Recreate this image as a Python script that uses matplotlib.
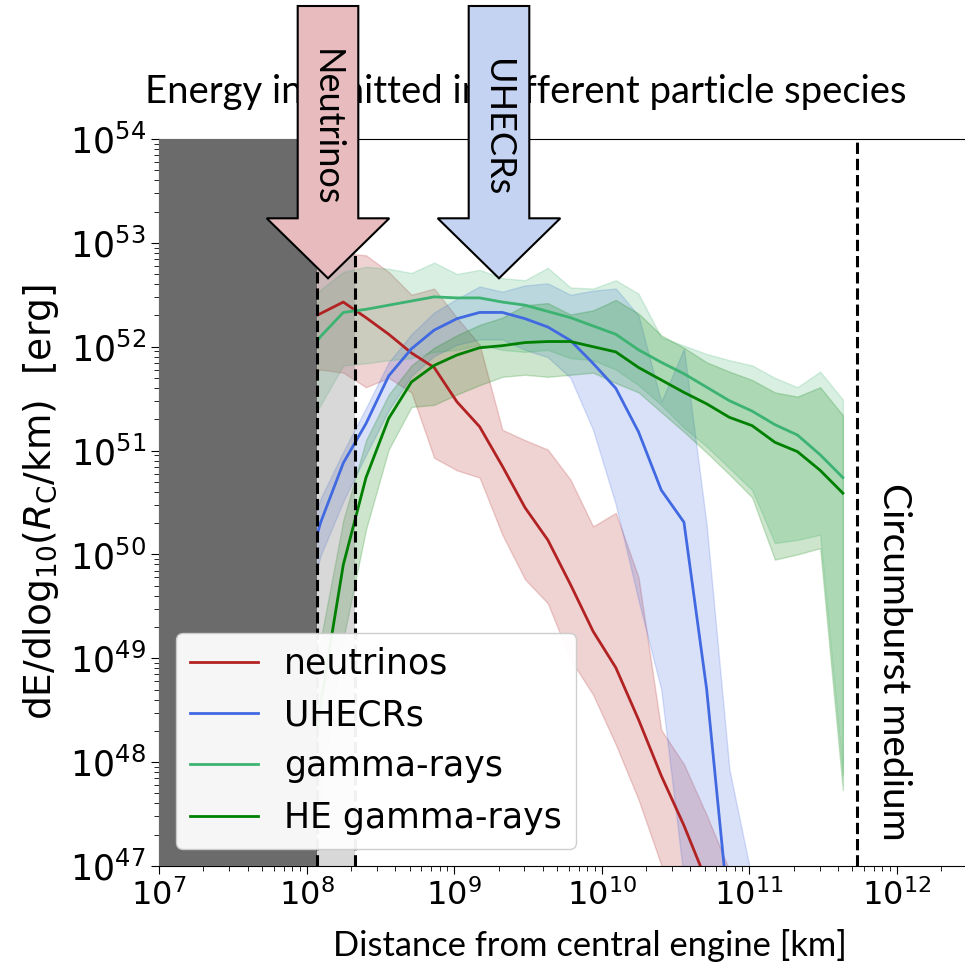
import numpy as np
import matplotlib
matplotlib.use("Agg")
import matplotlib.pyplot as plt
from matplotlib.patches import Polygon

# log10 of the radius grid [km]
log_r = [7.942, 8.096, 8.249, 8.403, 8.557, 8.711, 8.865, 9.019, 9.173, 9.327,
         9.481, 9.635, 9.789, 9.942, 10.096, 10.250, 10.404, 10.558, 10.712,
         10.866, 11.020, 11.174, 11.327, 11.481, 11.635]

# log10 dE/dlog10(R) [erg] -- median, upper and lower envelope
nu_mid = [52.21, 52.32, 52.43, 52.28, 52.12, 51.94, 51.80, 51.47, 51.23, 50.85,
          50.45, 50.14, 49.71, 49.26, 48.91, 48.41, 47.87, 47.39, 46.85, 46.3, 45.8]
nu_hi = [52.74, 52.82, 52.90, 52.88, 52.72, 52.50, 52.56, 52.28, 52.02, 51.20,
         51.10, 51.01, 50.72, 50.27, 50.40, 49.78, 48.31, 47.98, 47.49, 46.96, 46.4]
nu_lo = [51.68, 51.78, 51.75, 51.61, 51.70, 51.56, 50.93, 50.81, 50.74, 50.19,
         49.76, 49.53, 48.99, 48.65, 48.17, 47.64, 47.01, 46.48, 46.0, 45.5, 45.0]

cr_mid = [49.56, 50.31, 50.88, 51.26, 51.72, 51.98, 52.16, 52.27, 52.33, 52.33,
          52.27, 52.19, 52.06, 51.84, 51.60, 51.18, 50.62, 50.31, 48.70, 46.48, 45.5]
cr_hi = [49.95, 50.54, 50.99, 51.41, 51.85, 52.12, 52.33, 52.46, 52.58, 52.53,
         52.59, 52.61, 52.50, 52.54, 52.56, 52.30, 51.47, 51.98, 50.28, 47.93, 46.87]
cr_lo = [49.18, 49.99, 50.51, 50.96, 51.39, 51.72, 51.91, 52.02, 52.07, 52.07,
         51.97, 51.90, 51.70, 51.20, 50.48, 49.56, 48.70, 46.87, 45.5, 45.0, 44.5]

gam_mid = [51.82, 52.10, 52.33, 52.36, 52.40, 52.44, 52.48, 52.47, 52.47, 52.43,
           52.40, 52.34, 52.28, 52.20, 52.12, 51.97, 51.85, 51.74, 51.61, 51.48,
           51.38, 51.25, 51.15, 50.96, 50.74]
gam_hi = [52.35, 52.55, 52.72, 52.77, 52.75, 52.71, 52.81, 52.70, 52.74, 52.66,
          52.64, 52.76, 52.57, 52.56, 52.64, 52.51, 52.09, 52.01, 51.93, 51.87,
          51.82, 51.70, 51.61, 51.76, 51.49]
gam_lo = [51.10, 51.44, 51.82, 51.84, 51.87, 51.89, 51.95, 51.97, 52.02, 51.97,
          51.95, 51.97, 51.89, 51.87, 51.78, 51.63, 51.44, 51.22, 51.04, 50.83,
          50.62, 50.11, 50.14, 50.19, 47.88]

he_mid = [46.68, 48.57, 49.90, 50.74, 51.31, 51.66, 51.82, 51.92, 51.99, 52.01,
          52.04, 52.05, 52.05, 52.00, 51.95, 51.80, 51.68, 51.56, 51.45, 51.32,
          51.24, 51.08, 50.99, 50.81, 50.59]
he_hi = [47.5, 49.18, 50.33, 51.10, 51.54, 51.82, 51.99, 52.11, 52.21, 52.28,
         52.40, 52.42, 52.31, 52.35, 52.45, 52.32, 52.11, 51.99, 51.85, 51.76,
         51.68, 51.56, 51.52, 51.61, 51.34]
he_lo = [46.0, 47.64, 49.18, 50.24, 51.01, 51.42, 51.44, 51.54, 51.63, 51.71,
         51.73, 51.71, 51.73, 51.75, 51.65, 51.56, 51.37, 51.18, 50.98, 50.77,
         50.55, 49.95, 50.00, 50.06, 47.73]

# characteristic radii [km]
r_photo_in = 1.18e8
r_photo_out = 2.13e8
r_cbm = 5.4e11

W, H = 965, 966
fig = plt.figure(figsize=(W / 100, H / 100), dpi=100)
ax = fig.add_axes([159 / W, 1 - 866 / H, 841 / W, 727 / H])

r = 10 ** np.array(log_r)
series = [
    ("neutrinos", "firebrick", nu_mid, nu_lo, nu_hi),
    ("UHECRs", "royalblue", cr_mid, cr_lo, cr_hi),
    ("gamma-rays", "mediumseagreen", gam_mid, gam_lo, gam_hi),
    ("HE gamma-rays", "green", he_mid, he_lo, he_hi),
]
for label, c, mid, lo, hi in series:
    n = len(mid)
    ax.fill_between(r[:n], 10 ** np.array(lo), 10 ** np.array(hi), color=c, alpha=0.2)
    ax.plot(r[:n], 10 ** np.array(mid), color=c, lw=2, label=label)

ax.axvspan(1e7, r_photo_in, color="#6b6b6b", lw=0, zorder=3)
ax.axvspan(r_photo_in, r_photo_out, color="gray", alpha=0.3, lw=0, zorder=1.5)
for xv in (r_photo_in, r_photo_out, r_cbm):
    ax.axvline(xv, color="k", ls="--", lw=2.2, zorder=4)

ax.set_xscale("log")
ax.set_yscale("log")
ax.set_xlim(1e7, 10 ** 12.7)
ax.set_ylim(1e47, 1e54)
ax.tick_params(which="major", length=6)
ax.tick_params(which="minor", length=3.5)
ax.tick_params(axis="y", labelsize=25)
ax.tick_params(axis="x", labelsize=23)
ax.set_ylabel(r"dE/dlog$_{10}$($R_{\rm C}$/km)  [erg]", fontsize=27)
ax.yaxis.set_label_coords(-0.117, 0.5)

leg = ax.legend(loc="lower left", fontsize=25, handlelength=1.95, handletextpad=0.75,
                labelspacing=0.5, borderaxespad=0.5, framealpha=0.95)
leg.set_zorder(10)

# annotations on top of the figure
font = "Lato"
fig.text(526 / W, 1 - 92 / H, "Energy in emitted in different particle species",
         ha="center", va="center", fontsize=27.5, family=font, zorder=1)
fig.text(590 / W, 1 - 946 / H, "Distance from central engine [km]",
         ha="center", va="center", fontsize=24.8, family=font)
fig.text(894 / W, 1 - 662 / H, "Circumburst medium", rotation=-90,
         ha="center", va="center", fontsize=28, family=font)


def arrow_pts(xc, half_shaft, half_head, y_top, y_head, y_tip):
    pts = [(xc - half_shaft, y_top), (xc + half_shaft, y_top), (xc + half_shaft, y_head),
           (xc + half_head, y_head), (xc, y_tip), (xc - half_head, y_head),
           (xc - half_shaft, y_head)]
    return [(x / W, 1 - y / H) for x, y in pts]


for xc, fc, text in [(328, "#e8bcbf", "Neutrinos"), (499, "#c5d3f2", "UHECRs")]:
    fig.add_artist(Polygon(arrow_pts(xc, 30.3, 61.3, 6, 218.3, 278.3), closed=True,
                           transform=fig.transFigure, facecolor=fc, edgecolor="k",
                           lw=1.5, zorder=4))
    fig.text((xc - 2) / W, 1 - 128 / H, text, rotation=-90, ha="center", va="center",
             fontsize=26, family=font, zorder=5)

fig.savefig("out.png", dpi=100)
